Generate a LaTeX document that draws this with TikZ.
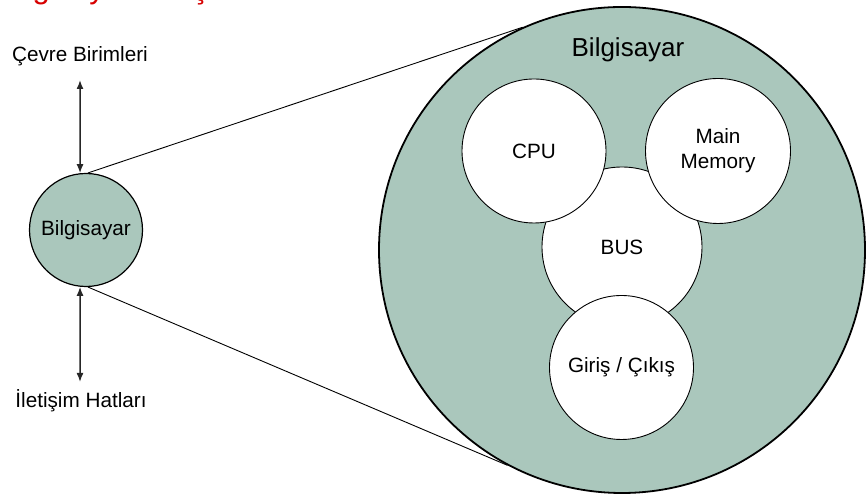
\documentclass[tikz,border=0pt]{standalone}
\usepackage{fontspec}
\setmainfont{Liberation Sans}
\usetikzlibrary{arrows.meta}
\definecolor{sage}{RGB}{170,199,188}
\definecolor{titlered}{RGB}{215,0,0}
\begin{document}
\begin{tikzpicture}[x=1pt,y=1pt,
  lbl/.style={font=\fontsize{20.7}{25}\selectfont},
  unit/.style={circle,draw=black,line width=0.9pt,fill=white,inner sep=0pt,
    minimum size=#1,lbl,align=center},
  link/.style={draw=black,line width=0.9pt},
  io/.style={draw=black!85,line width=1.5pt,
    {Latex[length=9pt,width=7pt]}-{Latex[length=9pt,width=7pt]}}]
\useasboundingbox (0,0) rectangle (868,494);

% slide title (sits above the page edge)
\node[anchor=base west,text=titlered,font=\fontsize{31}{36}\selectfont,inner sep=0pt]
  (title) at (-2,495) {Bilgisayar Bileşenleri};

% the computer and its surroundings
\node[circle,draw=black,line width=1.2pt,fill=sage,inner sep=0pt,minimum size=113pt,lbl]
  (pc) at (86,264) {Bilgisayar};
\node[lbl,inner sep=0pt] (cevre) at (80,438) {Çevre Birimleri};
\node[lbl,inner sep=0pt] (iletisim) at (81,93) {İletişim Hatları};
\coordinate (ctop) at (80,414);
\coordinate (cbot) at (80,112);
\draw[io] (ctop) -- (pc.96);
\draw[io] (cbot) -- (pc.264);

% enlarged view
\node[circle,draw=black,line width=1.8pt,fill=sage,inner sep=0pt,minimum size=486pt]
  (big) at (622,244) {};
\draw[link] (pc.88) -- (big.114);
\draw[link] (pc.272) -- (big.242.5);
\node[font=\fontsize{26}{30}\selectfont,inner sep=0pt] (bigl) at (628,444) {Bilgisayar};

\node[unit=160pt] (bus) at (622,247) {BUS};
\node[unit=144pt] (cpu) at (534,343) {CPU};
\node[unit=145pt] (mem) at (718,343) {Main\\Memory};
\node[unit=144pt] (gc) at (621.5,126.5) {Giriş / Çıkış};
\end{tikzpicture}
\end{document}
